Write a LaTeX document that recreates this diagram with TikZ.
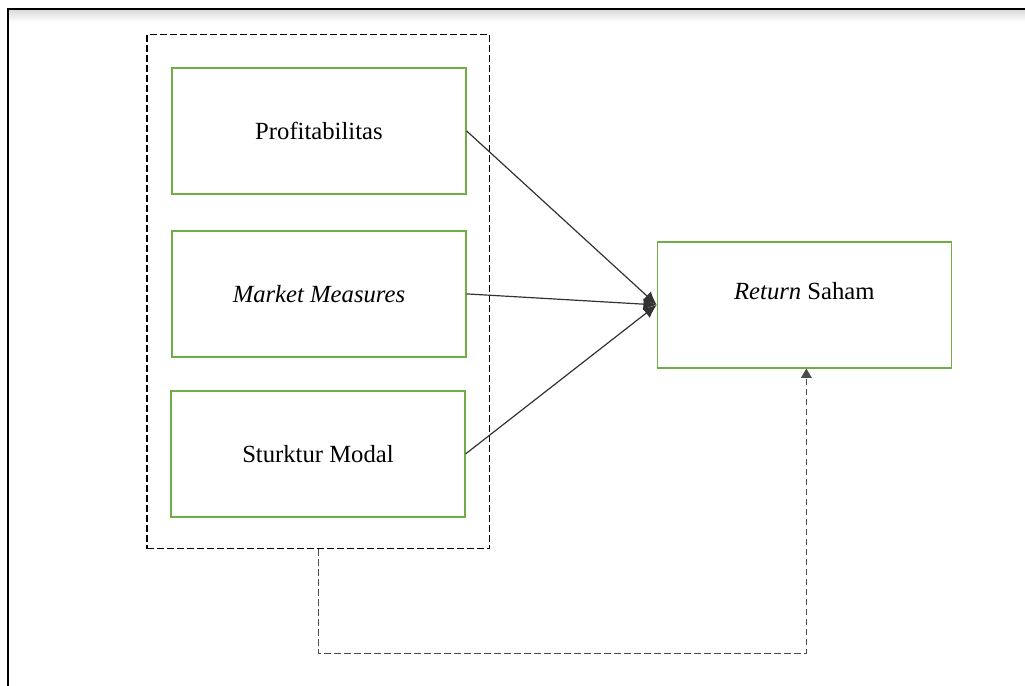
\documentclass[tikz,border=0pt]{standalone}
\usepackage{fontspec}
\setmainfont{Liberation Serif}
\usetikzlibrary{arrows.meta}
\definecolor{boxgreen}{RGB}{112,173,71}
\tikzset{
    varbox/.style = {draw = boxgreen, line width = 1pt, minimum width = 7.75cm, minimum height = 3.32cm,
        font = \fontsize{18.5}{22}\selectfont},
    link/.style = {draw = black!80, line width = 0.9pt, -{Latex[length = 10pt, width = 9pt]}}
}
\begin{document}
\begin{tikzpicture}
            \useasboundingbox (0,0) rectangle (27.02,18.08);
            %Frame
            \shade [top color = gray!30, bottom color = white] (0.21,17.84) rectangle (27.02,17.5);
            \draw [line width = 1.5pt] (0.21,0) -- (0.21,17.84) -- (27.02,17.84);
            %Group
            \node [draw, line width = 0.8pt, dash pattern = on 5pt off 2.5pt, minimum width = 9.04cm, minimum height = 13.55cm]
            (grp)at(8.395,10.385){};
            %Profitabilitas
            \node [varbox]
            (prof)at(8.408,14.628){Profitabilitas};
            %Market Measures
            \node [varbox]
            (mkt)at(8.408,10.332){\textit{Market Measures}};
            %Sturktur Modal
            \node [varbox]
            (sm)at(8.382,6.115){Sturktur Modal};
            %Return Saham
            \node [varbox, label = {[yshift = 10.5pt, font = \fontsize{18.5}{22}\selectfont]center:{\textit{Return} Saham}}]
            (ret)at(21.204,10.042){};

            \draw [link](prof.east)--(ret.west);
            \draw [link](mkt.east)--(ret.west);
            \draw [link](sm.east)--(ret.west);
            \draw [draw = black!70, line width = 1.1pt, dash pattern = on 5pt off 2.5pt, -{Triangle[length = 7pt, width = 8pt]}]
            (grp.south)--++(0,-2.741)-|([xshift = 1.5pt]ret.south);

        \end{tikzpicture}
\end{document}
